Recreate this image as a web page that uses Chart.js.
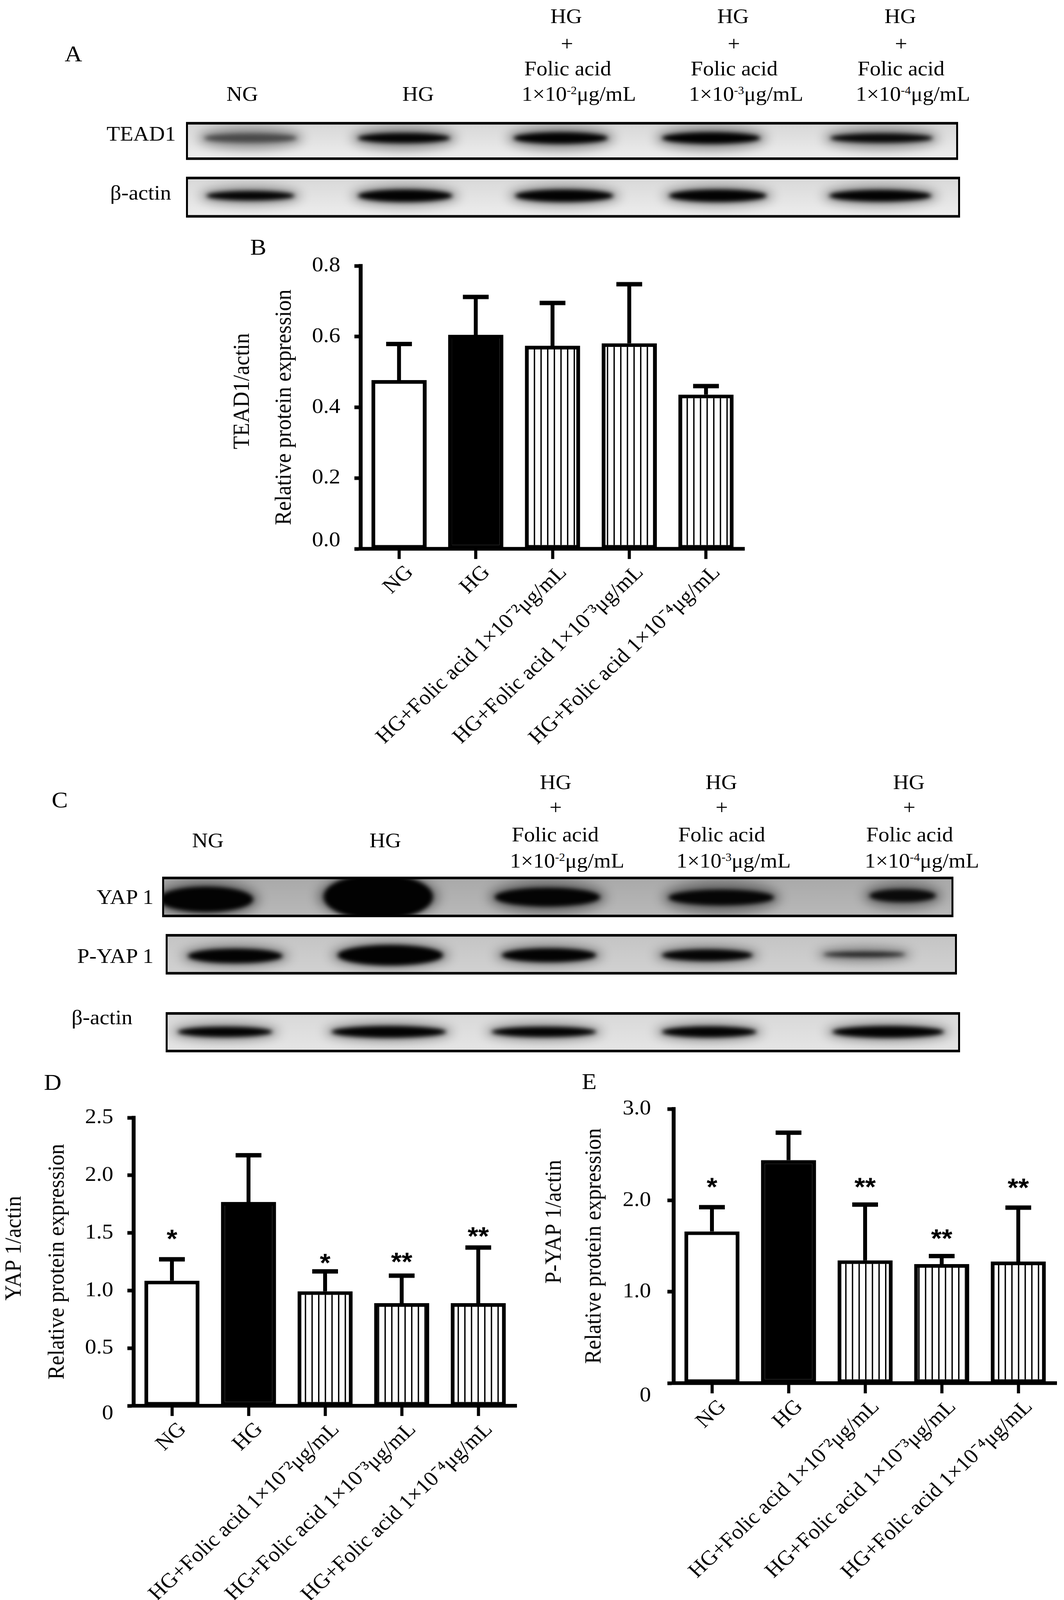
<!DOCTYPE html>
<html>
<head>
<meta charset="utf-8">
<script src="https://cdn.jsdelivr.net/npm/chart.js@4.4.1/dist/chart.umd.min.js"></script>
<style>
  html, body { margin: 0; background: #fff; overflow: hidden; height: 100%; }
  #fig { position: relative; width: 2723px; height: 4382px; background: #fff; overflow: hidden;
         transform-origin: 0 0;
         font-family: "Liberation Serif", "Times New Roman", serif; color: #000; }
  .t { position: absolute; white-space: nowrap; font-size: 56px; line-height: 1; }
  .c { transform: translate(-50%, -50%); }
  .l { transform: translateY(-50%); }
  .r { transform: translate(-100%, -50%); }
  .big { font-size: 62px; }
  sup { font-size: 0.55em; vertical-align: 0.6em; line-height: 0; }
  canvas { position: absolute; }
</style>
</head>
<body>
<div id="fig">
  <!-- panel A -->
  <div class="t c big" style="left:188px;top:147px">A</div>
  <div class="t c" style="left:1449px;top:44px">HG</div>
  <div class="t c" style="left:1876px;top:44px">HG</div>
  <div class="t c" style="left:2304px;top:44px">HG</div>
  <div class="t c" style="left:1451px;top:119px">+</div>
  <div class="t c" style="left:1878px;top:119px">+</div>
  <div class="t c" style="left:2306px;top:119px">+</div>
  <div class="t c" style="left:1453px;top:187px">Folic acid</div>
  <div class="t c" style="left:1879px;top:187px">Folic acid</div>
  <div class="t c" style="left:2306px;top:187px">Folic acid</div>
  <div class="t c" style="left:620px;top:257px">NG</div>
  <div class="t c" style="left:1070px;top:257px">HG</div>
  <div class="t l" style="left:1335px;top:257px">1×10<sup>-2</sup>μg/mL</div>
  <div class="t l" style="left:1763px;top:257px">1×10<sup>-3</sup>μg/mL</div>
  <div class="t l" style="left:2190px;top:257px">1×10<sup>-4</sup>μg/mL</div>
  <div class="t r" style="left:450px;top:366px">TEAD1</div>
  <div class="t r" style="left:438px;top:528px">β-actin</div>
  <canvas id="blotTead" style="left:476px;top:334px" width="1976" height="104"></canvas>
  <canvas id="blotActinA" style="left:476px;top:484px" width="1981" height="112"></canvas>

  <!-- panel B -->
  <div class="t c big" style="left:661px;top:676px">B</div>
  <canvas id="chartB" style="left:560px;top:620px" width="1400" height="1460"></canvas>

  <!-- panel C -->
  <div class="t c big" style="left:153px;top:2190px">C</div>
  <div class="t c" style="left:1422px;top:2142px">HG</div>
  <div class="t c" style="left:1846px;top:2142px">HG</div>
  <div class="t c" style="left:2326px;top:2142px">HG</div>
  <div class="t c" style="left:1422px;top:2211px">+</div>
  <div class="t c" style="left:1847px;top:2211px">+</div>
  <div class="t c" style="left:2327px;top:2211px">+</div>
  <div class="t c" style="left:1421px;top:2285px">Folic acid</div>
  <div class="t c" style="left:1847px;top:2285px">Folic acid</div>
  <div class="t c" style="left:2328px;top:2285px">Folic acid</div>
  <div class="t c" style="left:532px;top:2301px">NG</div>
  <div class="t c" style="left:986px;top:2301px">HG</div>
  <div class="t l" style="left:1305px;top:2357px">1×10<sup>-2</sup>μg/mL</div>
  <div class="t l" style="left:1731px;top:2357px">1×10<sup>-3</sup>μg/mL</div>
  <div class="t l" style="left:2213px;top:2357px">1×10<sup>-4</sup>μg/mL</div>
  <div class="t r" style="left:393px;top:2457px">YAP 1</div>
  <div class="t r" style="left:393px;top:2618px">P-YAP 1</div>
  <div class="t l" style="left:183px;top:2786px">β-actin</div>
  <canvas id="blotYap" style="left:415px;top:2401px" width="2025" height="111"></canvas>
  <canvas id="blotPyap" style="left:424px;top:2558px" width="2025" height="111"></canvas>
  <canvas id="blotActinC" style="left:424px;top:2772px" width="2033" height="110"></canvas>

  <!-- panels D and E -->
  <div class="t c big" style="left:135px;top:2964px">D</div>
  <div class="t c big" style="left:1508px;top:2962px">E</div>
  <canvas id="chartD" style="left:-60px;top:2960px" width="1420" height="1422"></canvas>
  <canvas id="chartE" style="left:1340px;top:2960px" width="1383" height="1422"></canvas>
</div>

<script>
// ---- data ----
const groups = [
  'NG',
  'HG',
  'HG+Folic acid 1×10⁻²μg/mL',
  'HG+Folic acid 1×10⁻³μg/mL',
  'HG+Folic acid 1×10⁻⁴μg/mL',
];

const tead1Mean = [0.477, 0.605, 0.574, 0.581, 0.436];
const tead1Sem = [0.102, 0.107, 0.121, 0.167, 0.024];
const tead1Ticks = ['0.0', '0.2', '0.4', '0.6', '0.8'];

const yap1Mean = [1.085, 1.768, 0.993, 0.890, 0.890];
const yap1Sem = [0.186, 0.406, 0.173, 0.239, 0.483];
const yap1Ticks = ['0', '0.5', '1.0', '1.5', '2.0', '2.5'];
const yap1Stars = ['*', '', '*', '**', '**'];
const yap1StarAt = [1.50, 0, 1.29, 1.30, 1.52];

const pyap1Mean = [1.66, 2.44, 1.343, 1.302, 1.33];
const pyap1Sem = [0.265, 0.30, 0.61, 0.088, 0.59];
const pyap1Ticks = ['0', '1.0', '2.0', '3.0'];
const pyap1Stars = ['*', '', '**', '**', '**'];
const pyap1StarAt = [2.21, 0, 2.21, 1.645, 2.20];

// the window may be shorter than the figure: squeeze it to fit
const fitK = Math.min(1, window.innerHeight / 4382);
document.getElementById('fig').style.transform = 'scale(1,' + fitK + ')';

// ---- western blot pictures (plain canvas, not chart data) ----
// each band: [centre x, centre y, width, core height, core colour, halo height]
const blots = {
  blotTead: { bg: ['#d6d6d6', '#efefef'], bands: [
    [165, 44, 256, 24, '#4a4a4a', 60], [558, 44, 256, 28, '#050505', 64], [959, 44, 262, 32, '#030303', 66],
    [1344, 44, 272, 32, '#020202', 66], [1780, 44, 282, 26, '#0a0a0a', 60]] },
  blotActinA: { bg: ['#d8d8d8', '#eeeeee'], bands: [
    [165, 52, 246, 26, '#050505', 50], [561, 52, 262, 34, '#030303', 56], [968, 52, 272, 34, '#030303', 56],
    [1361, 52, 270, 34, '#030303', 56], [1777, 52, 282, 32, '#030303', 56]] },
  blotYap: { bg: ['#a9a9a9', '#b9b9b9'], bands: [
    [112, 62, 262, 70, '#030303', 104], [553, 55, 300, 125, '#020202', 130], [986, 56, 290, 52, '#040404', 92],
    [1431, 57, 290, 44, '#060606', 90], [1895, 52, 190, 36, '#0a0a0a', 72]] },
  blotPyap: { bg: ['#c4c4c4', '#d2d2d2'], bands: [
    [178, 60, 262, 40, '#030303', 60], [575, 58, 290, 56, '#020202', 72], [981, 58, 262, 38, '#030303', 58],
    [1386, 58, 253, 32, '#050505', 52], [1788, 56, 230, 14, '#222222', 40]] },
  blotActinC: { bg: ['#d8d8d8', '#e6e6e6'], bands: [
    [152, 54, 262, 28, '#040404', 48], [571, 54, 314, 32, '#030303', 52], [968, 54, 288, 28, '#040404', 48],
    [1391, 54, 262, 30, '#040404', 50], [1849, 54, 306, 32, '#030303', 52]] },
};

Object.keys(blots).forEach(id => {
  const cv = document.getElementById(id);
  const ctx = cv.getContext('2d');
  const w = cv.width, h = cv.height;
  const grad = ctx.createLinearGradient(0, 0, 0, h);
  grad.addColorStop(0, blots[id].bg[0]);
  grad.addColorStop(1, blots[id].bg[1]);
  ctx.fillStyle = grad;
  ctx.fillRect(0, 0, w, h);
  blots[id].bands.forEach(b => {
    ctx.save();
    ctx.filter = 'blur(14px)';
    ctx.fillStyle = 'rgba(0,0,0,0.38)';
    ctx.beginPath();
    ctx.ellipse(b[0], b[1], b[2] / 2 + 6, b[5] / 2, 0, 0, Math.PI * 2);
    ctx.fill();
    ctx.filter = 'blur(6px)';
    ctx.fillStyle = b[4];
    ctx.beginPath();
    ctx.ellipse(b[0], b[1], b[2] / 2 - 10, b[3] / 2, 0, 0, Math.PI * 2);
    ctx.fill();
    ctx.restore();
  });
  ctx.fillStyle = '#000';
  ctx.fillRect(0, 0, w, 7);
  ctx.fillRect(0, h - 7, w, 7);
  ctx.fillRect(0, 0, 5, h);
  ctx.fillRect(w - 5, 0, 5, h);
});

// ---- charts ----
function hatchPattern() {
  const c = document.createElement('canvas');
  c.width = 17; c.height = 17;
  const g = c.getContext('2d');
  g.fillStyle = '#fff';
  g.fillRect(0, 0, 17, 17);
  g.fillStyle = '#000';
  g.fillRect(7, 0, 3.5, 17);
  return g.createPattern(c, 'repeat');
}

const errorBars = {
  id: 'errorBars',
  afterDatasetsDraw(chart, args, opts) {
    const { ctx } = chart;
    const y = chart.scales.y;
    const meta = chart.getDatasetMeta(0);
    ctx.save();
    ctx.strokeStyle = '#000';
    ctx.fillStyle = '#000';
    meta.data.forEach((bar, i) => {
      const top = y.getPixelForValue(opts.mean[i] + opts.sem[i]);
      ctx.lineWidth = 10;
      ctx.beginPath();
      ctx.moveTo(bar.x, bar.y);
      ctx.lineTo(bar.x, top);
      ctx.stroke();
      ctx.fillRect(bar.x - 33, top - 6, 66, 12);
      if (opts.stars && opts.stars[i]) {
        ctx.font = 'bold 70px "Liberation Sans"';
        ctx.textAlign = 'center';
        ctx.textBaseline = 'alphabetic';
        ctx.fillText(opts.stars[i], bar.x, y.getPixelForValue(opts.starAt[i]) + 40);
      }
    });
    ctx.restore();
  }
};

function makeChart(id, mean, sem, tickLabels, max, step, title, g, stars, starAt) {
  const hatch = hatchPattern();
  return new Chart(document.getElementById(id), {
    type: 'bar',
    data: {
      labels: groups,
      datasets: [{
        data: mean,
        backgroundColor: ['#ffffff', '#000000', hatch, hatch, hatch],
        borderColor: '#000',
        borderWidth: 10,
        borderSkipped: false,
        barPercentage: 0.72,
        categoryPercentage: 1,
      }]
    },
    options: {
      responsive: false,
      animation: false,
      devicePixelRatio: 1,
      layout: { padding: { top: g.padTop, right: g.padRight, left: 0, bottom: 0 } },
      plugins: {
        legend: { display: false },
        tooltip: { enabled: false },
        errorBars: { mean: mean, sem: sem, stars: stars, starAt: starAt }
      },
      scales: {
        x: {
          offset: true,
          grid: { drawOnChartArea: false, offset: false, tickLength: 28, tickWidth: 8, tickColor: '#000' },
          border: { color: '#000', width: 10 },
          ticks: {
            color: '#000',
            font: { family: 'Liberation Serif', size: 57 },
            minRotation: 45, maxRotation: 45,
            autoSkip: false,
            padding: 4,
            labelOffset: 28
          },
          afterFit: s => { s.height = g.xHeight; }
        },
        y: {
          min: 0,
          max: max,
          ticks: {
            stepSize: step,
            color: '#000',
            padding: g.tickPad,
            font: { family: 'Liberation Serif', size: 58, lineHeight: g.zeroShift },
            callback: (v, i) => i === 0 ? (g.zeroUp ? [tickLabels[0], ''] : ['', tickLabels[0]]) : tickLabels[i]
          },
          grid: { drawOnChartArea: false, tickLength: 16, tickWidth: 10, tickColor: '#000' },
          border: { color: '#000', width: 10 },
          title: {
            display: true,
            text: title,
            color: '#000',
            font: { family: 'Liberation Serif', size: 59, lineHeight: g.titleLH },
            padding: { top: g.titlePad, bottom: 0 }
          },
          afterFit: s => { s.width = g.yWidth; }
        }
      }
    },
    plugins: [errorBars]
  });
}

const sp = n => '\u00a0'.repeat(n);

const chartB = makeChart('chartB', tead1Mean, tead1Sem, tead1Ticks, 0.8, 0.2,
  [sp(6) + 'TEAD1/actin', 'Relative protein expression'],
  { yWidth: 363, xHeight: 577, padTop: 108, padRight: 55, titlePad: 8, titleLH: '107px', tickPad: 36, zeroShift: '44px', zeroUp: true });

const chartD = makeChart('chartD', yap1Mean, yap1Sem, yap1Ticks, 2.5, 0.5,
  [sp(5) + 'YAP 1/actin', 'Relative protein expression'],
  { yWidth: 402, xHeight: 532, padTop: 101, padRight: 38, titlePad: 42, titleLH: '110px', tickPad: 36, zeroShift: '44px', zeroUp: false },
  yap1Stars, yap1StarAt);

const chartE = makeChart('chartE', pyap1Mean, pyap1Sem, pyap1Ticks, 3, 1,
  [sp(9) + 'P-YAP 1/actin', 'Relative protein expression'],
  { yWidth: 384, xHeight: 594, padTop: 71, padRight: 19, titlePad: 28, titleLH: '102px', tickPad: 42, zeroShift: '70px', zeroUp: false },
  pyap1Stars, pyap1StarAt);
</script>
</body>
</html>
